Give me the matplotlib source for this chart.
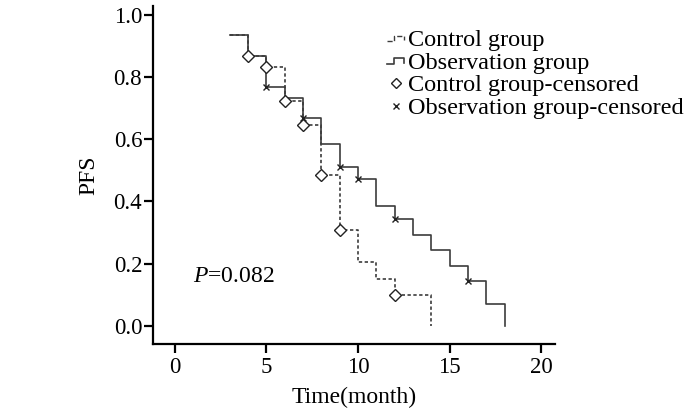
import matplotlib
matplotlib.use("Agg")
import matplotlib.pyplot as plt
from matplotlib.lines import Line2D
from matplotlib.legend_handler import HandlerBase

plt.rcParams['font.family'] = ['Liberation Serif', 'DejaVu Serif']
plt.rcParams['mathtext.fontset'] = 'custom'
plt.rcParams['mathtext.rm'] = 'Liberation Serif'
plt.rcParams['mathtext.it'] = 'Liberation Serif:italic'

#%% data
ctrl_time = [3, 4, 5, 6, 7, 8, 9, 10, 11, 12, 14]
ctrl_pfs = [0.933, 0.867, 0.833, 0.722, 0.645, 0.484, 0.307, 0.204, 0.151, 0.100, 0.0]
ctrl_cens_time = [4, 5, 6, 7, 8, 9, 12]
ctrl_cens_pfs = [0.867, 0.833, 0.722, 0.645, 0.484, 0.307, 0.100]

obs_time = [3, 4, 5, 6, 7, 8, 9, 10, 11, 12, 13, 14, 15, 16, 17, 18]
obs_pfs = [0.933, 0.867, 0.767, 0.733, 0.667, 0.585, 0.512, 0.472, 0.386,
           0.343, 0.293, 0.244, 0.194, 0.145, 0.070, 0.0]
obs_cens_time = [5, 7, 9, 10, 12, 16]
obs_cens_pfs = [0.767, 0.667, 0.512, 0.472, 0.343, 0.145]

x_ticks = [0, 5, 10, 15, 20]
y_ticks = [0.0, 0.2, 0.4, 0.6, 0.8, 1.0]
labels = ['Control group', 'Observation group', 'Control group-censored',
          'Observation group-censored']

LINE_COL = '#3c3c3c'
MARK_COL = '#222222'
DASH = (0, (2, 1.5))


class StepHandler(HandlerBase):
    # small step shape like in the original legend
    def create_artists(self, legend, orig_handle, xdescent, ydescent,
                       width, height, fontsize, trans):
        x0, y0 = -xdescent, -ydescent
        xs = [x0, x0 + 0.4 * width, x0 + 0.4 * width, x0 + 0.9 * width,
              x0 + 0.9 * width]
        ys = [y0 + 0.3 * height, y0 + 0.3 * height, y0 + 0.6 * height,
              y0 + 0.6 * height, y0 + 0.35 * height]
        ln = Line2D(xs, ys, color=orig_handle.get_color(),
                    lw=orig_handle.get_linewidth(),
                    ls=orig_handle.get_linestyle(), transform=trans)
        return [ln]


#%%
fig = plt.figure(figsize=(7, 4.13), dpi=100)
ax = fig.add_axes([0.219, 0.167, 0.574, 0.818])

ax.plot(obs_time, obs_pfs, drawstyle='steps-post', color=LINE_COL,
        lw=1.2, ls='-')
ax.plot(ctrl_time, ctrl_pfs, drawstyle='steps-post', color=LINE_COL,
        lw=1.2, ls=DASH)
ax.plot(ctrl_cens_time, ctrl_cens_pfs, ls='none', marker='D', ms=6,
        mfc='white', mec=MARK_COL, mew=1.0)
ax.plot(obs_cens_time, obs_cens_pfs, ls='none', marker='x', ms=4,
        color=MARK_COL, mew=1.0)

ax.set_xlim(-1.16, 20.76)
ax.set_ylim(-0.058, 1.027)
ax.set_xticks(x_ticks)
ax.set_yticks(y_ticks)
ax.set_yticklabels(['%.1f' % v for v in y_ticks])
ax.spines['top'].set_visible(False)
ax.spines['right'].set_visible(False)
for s in ['left', 'bottom']:
    ax.spines[s].set_linewidth(1.6)
ax.tick_params(axis='both', direction='out', length=6.5, width=1.6,
               labelsize=16.5, pad=1.5)
ax.tick_params(axis='x', pad=3)
ax.set_xlabel('Time(month)', fontsize=17, labelpad=6)
ax.set_ylabel('PFS', fontsize=17, labelpad=10)

ax.text(1.0, 0.158, '$P$=0.082', fontsize=17, va='center', ha='left')

h_ctrl = Line2D([], [], color=LINE_COL, lw=1.0, ls=DASH)
h_obs = Line2D([], [], color=LINE_COL, lw=1.2)
handles = [
    h_ctrl,
    h_obs,
    Line2D([], [], ls='none', marker='D', ms=5.5, mfc='white', mec=MARK_COL),
    Line2D([], [], ls='none', marker='x', ms=5, color=MARK_COL),
]
fig.legend(handles, labels, loc='upper left', bbox_to_anchor=(0.553, 0.930),
           frameon=False, fontsize=17.5, handlelength=0.75, handletextpad=0.12,
           labelspacing=0.03, borderpad=0, borderaxespad=0,
           handler_map={h_ctrl: StepHandler(), h_obs: StepHandler()})

fig.savefig('out.png', dpi=100)
